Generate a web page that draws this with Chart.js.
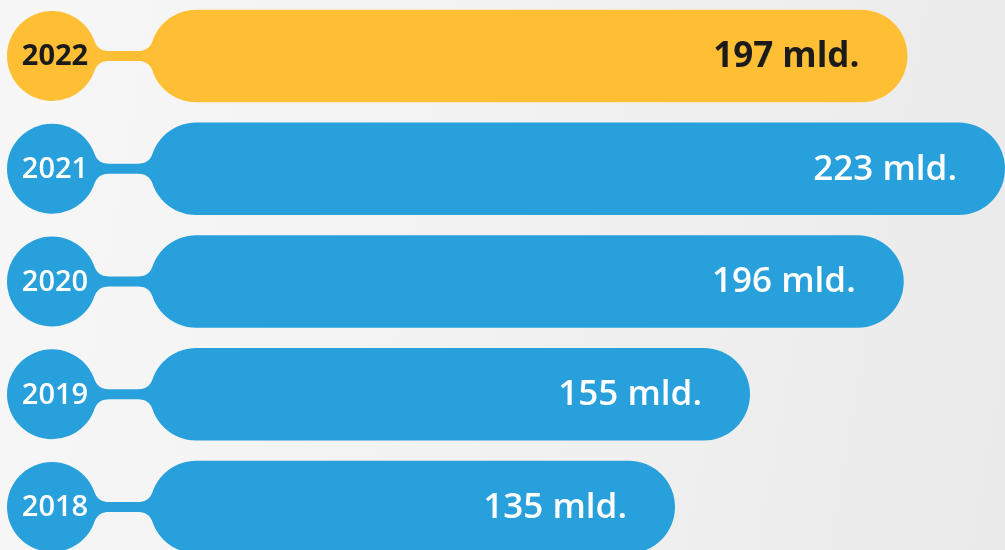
<!DOCTYPE html>
<html>
<head>
<meta charset="utf-8">
<script src="https://cdn.jsdelivr.net/npm/chart.js@4.4.1/dist/chart.umd.min.js"></script>
<style>
  html, body { margin: 0; padding: 0; overflow: hidden; }
  body {
    width: 1005px;
    height: 550px;
    background: linear-gradient(100deg, #f7f7f7 0%, #f1f1f1 55%, #eaeaea 100%);
  }
  canvas { display: block; }
</style>
</head>
<body>
<canvas id="chart" width="1005" height="550"></canvas>
<script>
  // data
  const years = ['2022', '2021', '2020', '2019', '2018'];
  const values = [197, 223, 196, 155, 135];
  const unit = 'mld.';
  const highlightYear = '2022';

  const YELLOW = '#ffbf35';
  const BLUE = '#28a0db';
  const DARK = '#1b1b1b';

  const barColors = years.map((y) => (y === highlightYear ? YELLOW : BLUE));
  const textColors = years.map((y) => (y === highlightYear ? DARK : '#ffffff'));

  // concave joint between a round end and the thin neck
  function fillet(ctx, cx, cy, R, side, sy, h, r) {
    const fx = cx + side * Math.sqrt((R + r) ** 2 - (h + r) ** 2);
    const fcy = cy + sy * (h + r);
    const k = r / (R + r);
    const px = fx + (cx - fx) * k;
    const py = fcy + (cy - fcy) * k;
    const a1 = Math.atan2(-sy * r, 0);
    const a2 = Math.atan2(py - fcy, px - fx);
    let d = a2 - a1;
    while (d > Math.PI) d -= 2 * Math.PI;
    while (d < -Math.PI) d += 2 * Math.PI;
    ctx.beginPath();
    ctx.moveTo(fx, cy);
    for (let s = 0; s <= 16; s++) {
      const a = a1 + (d * s) / 16;
      ctx.lineTo(fx + r * Math.cos(a), fcy + r * Math.sin(a));
    }
    ctx.lineTo(cx, cy);
    ctx.closePath();
    ctx.fill();
  }

  const badges = {
    id: 'badges',
    beforeDatasetsDraw(chart) {
      const ctx = chart.ctx;
      const meta = chart.getDatasetMeta(0);
      ctx.save();
      meta.data.forEach((bar, i) => {
        const p = bar.getProps(['x', 'y', 'base', 'height'], true);
        const cy = p.y;
        const Rb = p.height / 2;
        const bcx = p.base + Rb;
        const ccx = 52;
        const Rc = 45;
        const h = 5;
        const r = 14;
        ctx.fillStyle = barColors[i];
        ctx.beginPath();
        ctx.arc(ccx, cy, Rc, 0, Math.PI * 2);
        ctx.fill();
        ctx.fillRect(ccx, cy - h, bcx - ccx, h * 2);
        [-1, 1].forEach((sy) => {
          fillet(ctx, ccx, cy, Rc, 1, sy, h, r);
          fillet(ctx, bcx, cy, Rb, -1, sy, h, r);
        });
      });
      ctx.restore();
    },
    afterDatasetsDraw(chart) {
      const ctx = chart.ctx;
      const meta = chart.getDatasetMeta(0);
      ctx.save();
      ctx.textBaseline = 'middle';
      meta.data.forEach((bar, i) => {
        const p = bar.getProps(['x', 'y'], true);
        const bold = years[i] === highlightYear;
        ctx.fillStyle = textColors[i];
        ctx.textAlign = 'center';
        ctx.font = (bold ? '700' : '600') + ' 29px "Open Sans"';
        ctx.fillText(years[i], 55, p.y + 1);
        ctx.textAlign = 'right';
        ctx.font = (bold ? '700' : '600') + ' 35px "Open Sans"';
        ctx.fillText(values[i] + ' ' + unit, p.x - 48, p.y + 1);
      });
      ctx.restore();
    },
  };

  new Chart(document.getElementById('chart'), {
    type: 'bar',
    data: {
      labels: years,
      datasets: [
        {
          data: values,
          base: -5,
          backgroundColor: barColors,
          borderRadius: 100,
          borderSkipped: false,
          barPercentage: 0.82,
          categoryPercentage: 1,
          clip: false,
        },
      ],
    },
    options: {
      indexAxis: 'y',
      responsive: false,
      devicePixelRatio: 1,
      animation: false,
      layout: { padding: { left: 150, right: 0, top: 56, bottom: 43 } },
      scales: {
        x: { display: false, min: -5, max: 223 },
        y: { display: false, offset: false },
      },
      plugins: {
        legend: { display: false },
        tooltip: { enabled: false },
      },
    },
    plugins: [badges],
  });
</script>
</body>
</html>
